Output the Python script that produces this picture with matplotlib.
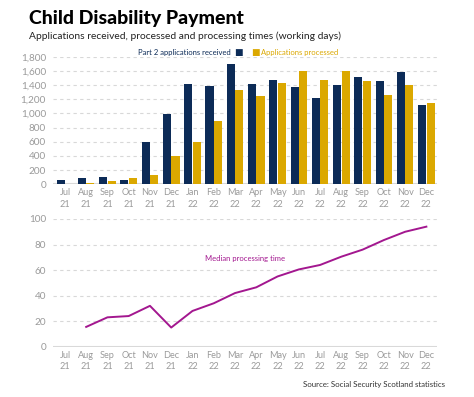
import matplotlib
matplotlib.use("Agg")
import matplotlib.pyplot as plt
import numpy as np

months = ["Jul\n21", "Aug\n21", "Sep\n21", "Oct\n21", "Nov\n21", "Dec\n21",
          "Jan\n22", "Feb\n22", "Mar\n22", "Apr\n22", "May\n22", "Jun\n22",
          "Jul\n22", "Aug\n22", "Sep\n22", "Oct\n22", "Nov\n22", "Dec\n22"]
received = [60, 85, 107, 65, 600, 990, 1410, 1380, 1695, 1415, 1470, 1375,
            1220, 1400, 1515, 1455, 1580, 1115]
processed = [0, 20, 50, 90, 125, 400, 600, 890, 1335, 1250, 1435, 1600,
             1475, 1600, 1455, 1260, 1400, 1140]
median_days = [np.nan, 15.5, 23, 24, 32, 15, 28, 34, 42, 46.5, 55, 60.5,
               64, 70.5, 76, 83.5, 90, 94]
bar_ticks = [0, 200, 400, 600, 800, 1000, 1200, 1400, 1600, 1800]
line_ticks = [0, 20, 40, 60, 80, 100]

NAVY = "#0c2b57"
GOLD = "#dba800"
MAG = "#a3178f"
GREY = "#9a9a9a"
FONT = ["Lato", "DejaVu Sans"]
plt.rcParams['font.family'] = FONT

W, H = 474, 397
fig = plt.figure(figsize=(W / 100, H / 100), dpi=100)

def box(l, t, r, b):
    return [l / W, 1 - b / H, (r - l) / W, (b - t) / H]

x = np.arange(len(months))
ax1 = fig.add_axes(box(53, 56.7, 437, 184.3))
ax1.bar(x - 0.2, received, width=0.38, color=NAVY, zorder=3)
ax1.bar(x + 0.2, processed, width=0.38, color=GOLD, zorder=3)
ax1.set_ylim(0, 1800)
ax1.set_yticks(bar_ticks)
ax1.set_yticklabels([f"{v:,}" for v in bar_ticks])

ax2 = fig.add_axes(box(53, 219, 437, 346.7))
ax2.plot(x, median_days, color=MAG, lw=1.4, zorder=3)
ax2.set_ylim(0, 100)
ax2.set_yticks(line_ticks)

for ax in (ax1, ax2):
    ax.set_xlim(-0.56, 17.5)
    ax.set_xticks(x)
    ax.set_xticklabels(months, linespacing=1.3)
    for s in ax.spines.values():
        s.set_visible(False)
    ax.axhline(0, color="#d9d9d9", lw=1.5, zorder=2)
    ax.grid(axis="y", color="#d8d8d8", ls=(0, (3, 3)), lw=0.8, zorder=0)
    ax.tick_params(axis="y", length=0, labelsize=7.2, colors=GREY, pad=5)
    ax.tick_params(axis="x", length=0, labelsize=6.6, colors=GREY, pad=3)
    ax.set_axisbelow(True)

ax1.yaxis.get_gridlines()[0].set_visible(False)
ax2.yaxis.get_gridlines()[0].set_visible(False)

fig.text(29 / W, 1 - 18.5 / H, "Child Disability Payment", fontsize=14,
         fontweight="black", color="black", va="center", ha="left")
fig.text(29 / W, 1 - 36 / H,
         "Applications received, processed and processing times (working days)",
         fontsize=7.4, color="#222222", va="center", ha="left")

fig.text(231 / W, 1 - 52 / H, "Part 2 applications received", fontsize=5.5,
         color=NAVY, va="center", ha="right")
fig.text(234 / W, 1 - 52 / H, "■", fontsize=6.5, color=NAVY, va="center", ha="left")
fig.text(251 / W, 1 - 52 / H, "■", fontsize=6.5, color=GOLD, va="center", ha="left")
fig.text(261 / W, 1 - 52 / H, "Applications processed", fontsize=5.5,
         color=GOLD, va="center", ha="left")

fig.text(245.5 / W, 1 - 258 / H, "Median processing time", fontsize=5.5,
         color=MAG, va="center", ha="center")

fig.text(445 / W, 1 - 384 / H, "Source: Social Security Scotland statistics",
         fontsize=5.7, color="#333333", va="center", ha="right")

fig.savefig("out.png", dpi=100, facecolor="white")
